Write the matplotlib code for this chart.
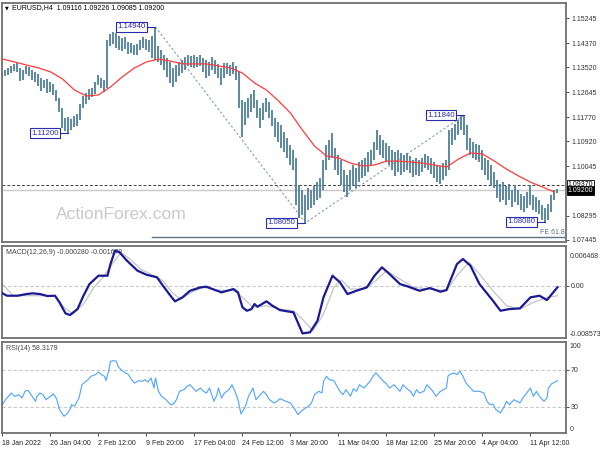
import numpy as np
import matplotlib
matplotlib.use("Agg")
import matplotlib.pyplot as plt
from matplotlib.transforms import blended_transform_factory

plt.rcParams['font.family'] = ['Liberation Sans', 'DejaVu Sans']

# === DATA ===
# one entry per 2 H4 bars, bar index = 2 * position
price_hi = [
    1.1336, 1.1343, 1.1350, 1.1357, 1.1364, 1.1367, 1.1350, 1.1343, 1.1357, 1.1353, 1.1343, 1.1336, 1.1329, 1.1314, 1.1307, 1.1311,
    1.1300, 1.1293, 1.1272, 1.1244, 1.1209, 1.1174, 1.1177, 1.1170, 1.1181, 1.1188, 1.1223, 1.1251, 1.1262, 1.1276, 1.1279, 1.1300,
    1.1325, 1.1314, 1.1307, 1.1448, 1.1469, 1.1476, 1.1473, 1.1462, 1.1455, 1.1459, 1.1441, 1.1438, 1.1431, 1.1434, 1.1448, 1.1459,
    1.1452, 1.1448, 1.1462, 1.1494, 1.1427, 1.1413, 1.1396, 1.1385, 1.1371, 1.1350, 1.1360, 1.1371, 1.1378, 1.1388, 1.1396, 1.1392,
    1.1396, 1.1388, 1.1396, 1.1385, 1.1378, 1.1371, 1.1388, 1.1378, 1.1364, 1.1350, 1.1367, 1.1367, 1.1360, 1.1371, 1.1357, 1.1336,
    1.1237, 1.1230, 1.1244, 1.1258, 1.1272, 1.1237, 1.1209, 1.1227, 1.1244, 1.1230, 1.1202, 1.1174, 1.1160, 1.1149, 1.1125, 1.1103,
    1.1079, 1.1061, 1.1033, 1.0938, 1.0920, 1.0903, 1.0927, 1.0920, 1.0934, 1.0948, 1.0963, 1.1026, 1.1079, 1.1096, 1.1121, 1.1068,
    1.1044, 1.1026, 1.0991, 1.0973, 1.0991, 1.1008, 1.0998, 1.1019, 1.1026, 1.1033, 1.1054, 1.1061, 1.1089, 1.1132, 1.1114, 1.1096,
    1.1086, 1.1075, 1.1061, 1.1054, 1.1061, 1.1051, 1.1044, 1.1051, 1.1040, 1.1026, 1.1033, 1.1026, 1.1033, 1.1047, 1.1040, 1.1033,
    1.1019, 1.1008, 1.1005, 1.1015, 1.1026, 1.1132, 1.1139, 1.1153, 1.1167, 1.1181, 1.1184, 1.1149, 1.1103, 1.1089, 1.1082, 1.1079,
    1.1061, 1.1033, 1.1026, 1.1008, 1.0984, 1.0955, 1.0941, 1.0948, 1.0934, 1.0941, 1.0920, 1.0938, 1.0920, 1.0906, 1.0899, 1.0913,
    1.0938, 1.0903, 1.0896, 1.0885, 1.0867, 1.0857, 1.0871, 1.0903, 1.0920, 1.0923,
]
price_lo = [
    1.1314, 1.1321, 1.1325, 1.1332, 1.1339, 1.1336, 1.1304, 1.1307, 1.1329, 1.1321, 1.1307, 1.1300, 1.1286, 1.1269, 1.1279, 1.1262,
    1.1265, 1.1255, 1.1234, 1.1195, 1.1139, 1.1128, 1.1120, 1.1132, 1.1142, 1.1146, 1.1167, 1.1209, 1.1223, 1.1237, 1.1248, 1.1258,
    1.1290, 1.1279, 1.1265, 1.1279, 1.1427, 1.1434, 1.1420, 1.1413, 1.1410, 1.1417, 1.1399, 1.1403, 1.1396, 1.1396, 1.1413, 1.1420,
    1.1413, 1.1406, 1.1385, 1.1378, 1.1371, 1.1360, 1.1343, 1.1318, 1.1297, 1.1283, 1.1300, 1.1321, 1.1332, 1.1343, 1.1357, 1.1353,
    1.1350, 1.1353, 1.1357, 1.1336, 1.1314, 1.1321, 1.1343, 1.1329, 1.1314, 1.1290, 1.1314, 1.1329, 1.1321, 1.1329, 1.1307, 1.1209,
    1.1107, 1.1149, 1.1174, 1.1195, 1.1209, 1.1174, 1.1139, 1.1167, 1.1195, 1.1174, 1.1146, 1.1107, 1.1089, 1.1068, 1.1054, 1.1033,
    1.1008, 1.0991, 1.0867, 1.0822, 1.0832, 1.0805, 1.0850, 1.0857, 1.0867, 1.0885, 1.0892, 1.0920, 1.0991, 1.1026, 1.1033, 1.0991,
    1.0973, 1.0938, 1.0913, 1.0896, 1.0920, 1.0934, 1.0927, 1.0948, 1.0963, 1.0970, 1.0984, 1.1008, 1.1026, 1.1061, 1.1044, 1.1033,
    1.1019, 1.1008, 1.0991, 1.0970, 1.0984, 1.0973, 1.0984, 1.0991, 1.0980, 1.0966, 1.0973, 1.0970, 1.0984, 1.0998, 1.0991, 1.0977,
    1.0963, 1.0948, 1.0941, 1.0955, 1.0970, 1.0991, 1.1079, 1.1096, 1.1114, 1.1132, 1.1114, 1.1061, 1.1044, 1.1033, 1.1026, 1.1019,
    1.0991, 1.0973, 1.0955, 1.0934, 1.0927, 1.0892, 1.0878, 1.0885, 1.0867, 1.0885, 1.0860, 1.0878, 1.0867, 1.0850, 1.0843, 1.0857,
    1.0867, 1.0850, 1.0843, 1.0836, 1.0815, 1.0808, 1.0815, 1.0843, 1.0885, 1.0909,
]

# red moving average, every 8 bars
ma_val = [
    1.1381, 1.1371, 1.1360, 1.1350, 1.1336, 1.1311, 1.1272, 1.1251, 1.1255, 1.1283,
    1.1319, 1.1350, 1.1371, 1.1381, 1.1374, 1.1364, 1.1364, 1.1364, 1.1357, 1.1350,
    1.1332, 1.1297, 1.1272, 1.1234, 1.1191, 1.1131, 1.1075, 1.1040, 1.1033, 1.1015,
    1.1005, 1.1008, 1.1022, 1.1022, 1.1019, 1.1015, 1.1008, 1.1001, 1.1029, 1.1051,
    1.1047, 1.1022, 1.0994, 1.0970, 1.0948, 1.0931, 1.0913,
]

macd_idx = [0, 3, 10, 16, 20, 25, 30, 35, 38, 42, 45, 50, 54, 58, 64, 70, 72, 75, 78, 83,
            90, 96, 103, 107, 112, 115, 120, 125, 132, 136, 140, 146, 154, 157, 160, 163, 166, 168, 170, 176,
            180, 185, 194, 200, 205, 210, 214, 220, 225, 230, 236, 243, 248, 253, 258, 265, 270, 278, 285, 292,
            296, 303, 307, 312, 318, 327, 332, 338, 345, 352, 358, 363, 370]
macd_val = [-0.00127, -0.00166, -0.00166, -0.00139, -0.00127, -0.00139, -0.00171, -0.00166, -0.00275, -0.00455,
            -0.00482, -0.00384, -0.00166, 0.00025, 0.00161, 0.00161, 0.00352, 0.00570, 0.00544, 0.00406,
            0.00243, 0.00177, 0.00135, -0.00003, -0.00166, -0.00258, -0.00193, -0.00085, -0.00029, -0.00019,
            -0.00057, -0.00111, -0.00057, -0.00111, -0.00356, -0.00412, -0.00384, -0.00302, -0.00346, -0.00258,
            -0.00330, -0.00401, -0.00438, -0.00782, -0.00765, -0.00576, -0.00193, 0.00161, 0.00053, -0.00139,
            -0.00085, -0.00029, 0.00161, 0.00298, 0.00189, 0.00025, -0.00013, -0.00085, -0.00041, -0.00101,
            -0.00073, 0.00352, 0.00434, 0.00324, 0.00025, -0.00248, -0.00412, -0.00384, -0.00373, -0.00193,
            -0.00166, -0.00237, -0.00028]

sig_idx = [0, 7, 35, 41, 47, 54, 61, 67, 74, 79, 85, 92, 101, 107, 114, 119, 126, 134, 143, 154,
           160, 167, 176, 185, 194, 201, 207, 214, 221, 226, 232, 241, 249, 256, 265, 274, 285, 296, 303, 311,
           318, 327, 336, 345, 354, 363, 370]
sig_val = [0.00025, -0.00166, -0.00166, -0.00356, -0.00466, -0.00302, -0.00029, 0.00135, 0.00380, 0.00544,
           0.00434, 0.00270, 0.00161, 0.00079, -0.00139, -0.00221, -0.00111, -0.00029, -0.00073, -0.00085,
           -0.00193, -0.00356, -0.00330, -0.00384, -0.00412, -0.00576, -0.00740, -0.00466, -0.00029, 0.00090,
           -0.00057, -0.00057, 0.00079, 0.00243, 0.00106, -0.00029, -0.00057, -0.00085, 0.00161, 0.00380,
           0.00189, -0.00085, -0.00330, -0.00384, -0.00275, -0.00193, -0.00168]

rsi_idx = [0, 2, 4, 6, 8, 11, 13, 15, 17, 19, 22, 23, 25, 27, 29, 32, 34, 36, 38, 41,
           43, 45, 46, 48, 51, 53, 55, 57, 59, 62, 64, 66, 68, 69, 71, 72, 74, 76, 77, 79,
           82, 84, 86, 88, 91, 93, 95, 97, 99, 101, 102, 104, 106, 109, 112, 114, 116, 118, 121, 123,
           125, 127, 129, 132, 134, 136, 138, 141, 143, 144, 146, 148, 151, 153, 155, 157, 159, 162, 164, 167,
           169, 172, 174, 176, 178, 181, 183, 185, 188, 192, 195, 197, 199, 202, 204, 206, 208, 211, 213, 214,
           216, 218, 221, 223, 225, 227, 229, 232, 234, 236, 238, 241, 243, 245, 247, 249, 252, 254, 256, 258,
           261, 263, 265, 267, 269, 272, 274, 276, 278, 281, 283, 285, 287, 289, 292, 294, 296, 297, 298, 301,
           303, 305, 307, 309, 312, 314, 318, 321, 323, 325, 327, 329, 332, 334, 336, 338, 341, 343, 345, 347,
           349, 352, 354, 356, 358, 361, 363, 364, 366, 369, 370]
rsi_val = [32.5, 37.9, 41.5, 45.1, 41.5, 43.3, 39.7, 46.9, 48.0, 43.3, 36.1, 41.5, 45.1, 43.3, 37.9, 41.5, 44.1, 39.0, 27.1, 19.9,
           22.4, 27.1, 32.5, 30.7, 39.7, 54.1, 57.0, 59.5, 63.2, 65.0, 67.8, 65.0, 63.2, 58.5, 70.4, 79.4, 80.1, 79.4, 74.0, 70.4,
           66.8, 65.0, 59.5, 55.9, 58.5, 57.7, 59.5, 57.0, 61.4, 50.5, 61.4, 46.9, 41.5, 37.9, 32.5, 33.2, 37.9, 46.9, 48.7, 52.3,
           54.1, 50.5, 46.9, 50.5, 46.9, 45.1, 50.5, 36.1, 43.3, 50.5, 39.7, 45.1, 48.7, 54.1, 46.9, 37.9, 22.4, 30.7, 41.5, 50.5,
           37.9, 43.3, 46.9, 43.3, 37.9, 34.3, 36.1, 39.0, 36.8, 34.3, 27.1, 21.7, 25.3, 28.9, 30.7, 34.3, 43.3, 46.9, 45.1, 57.7,
           63.2, 59.5, 58.5, 52.3, 46.9, 43.3, 48.7, 41.5, 49.8, 46.9, 54.1, 50.5, 54.1, 57.7, 63.2, 66.8, 61.4, 57.7, 54.9, 50.5,
           54.1, 50.5, 46.9, 54.1, 50.5, 46.9, 41.5, 48.7, 45.1, 46.9, 54.1, 50.5, 46.9, 41.5, 46.9, 48.7, 50.5, 63.2, 65.0, 66.8,
           65.0, 68.6, 63.2, 55.9, 50.5, 46.9, 46.9, 45.1, 36.1, 32.5, 33.2, 27.1, 23.5, 28.9, 36.1, 32.5, 37.9, 36.1, 34.3, 39.7,
           44.1, 50.5, 41.5, 46.9, 41.5, 36.1, 39.7, 50.5, 54.9, 57.7, 58.3]

main_ticks = [1.15245, 1.14370, 1.13520, 1.12645, 1.11770, 1.10920, 1.10045, 1.08295, 1.07445]
date_labels = ["18 Jan 2022", "26 Jan 04:00", "2 Feb 12:00", "9 Feb 20:00", "17 Feb 04:00", "24 Feb 12:00",
               "3 Mar 20:00", "11 Mar 04:00", "18 Mar 12:00", "25 Mar 20:00", "4 Apr 04:00", "11 Apr 12:00"]

pivots = [(1.14940, 102), (1.11200, 44), (1.08050, 202), (1.11840, 308), (1.08080, 362)]
ask_line = 1.09370
bid_line = 1.09200
fe_level = 1.0756

# === COLOURS ===
BAR = '#4f7f9c'
FRAME = '#707070'
PIVOT = '#2b2bb0'
SMALL = 5

fig = plt.figure(figsize=(6, 4.5), dpi=100)
fig.patch.set_facecolor('white')
W = 564 / 600
ax = fig.add_axes([2 / 600, 1 - 242 / 450, W, 239 / 450])
ax_m = fig.add_axes([2 / 600, 1 - 338 / 450, W, 92 / 450])
ax_r = fig.add_axes([2 / 600, 1 - 433 / 450, W, 91 / 450])

xlim = (-0.33, 375.7)
for a in (ax, ax_m, ax_r):
    a.set_xlim(*xlim)
    for s in a.spines.values():
        s.set_color(FRAME)
        s.set_linewidth(1.3)
    a.yaxis.tick_right()
    a.tick_params(axis='y', labelsize=SMALL, length=2.5, width=0.6, pad=1.2, colors='#333333')
    a.tick_params(axis='x', bottom=False, labelbottom=False)

# === Main price panel ===
bar_x = np.arange(len(price_hi)) * 2
ax.text(0.211, 0.115, "ActionForex.com", transform=ax.transAxes, fontsize=12.5,
        color='#c9c9c9', ha='center', va='center', zorder=0)
ax.vlines(bar_x, price_lo, price_hi, color=BAR, lw=1.3, zorder=2)
ax.plot(np.arange(len(ma_val)) * 8, ma_val, color='#ff3b3b', lw=0.9, zorder=3)

ax.axhline(bid_line, color='#c8c8c8', lw=1.0, zorder=1)
ax.axhline(ask_line, color='#404040', lw=0.7, ls=(0, (3, 2)), zorder=1)

# dotted swing lines between pivots
sw_p = [pivots[0][0], pivots[2][0], pivots[3][0]]
sw_x = [pivots[0][1], pivots[2][1], pivots[3][1]]
ax.plot(sw_x, sw_p, color='#8c9a9a', lw=0.8, ls=(0, (2, 2)), zorder=1)

# FE 61.8 projection
ax.plot([100, xlim[1]], [fe_level, fe_level], color='#5d7285', lw=1.0, zorder=1)
ax.text(0.998, fe_level + 0.0003, "FE 61.8", transform=blended_transform_factory(ax.transAxes, ax.transData),
        fontsize=SMALL, color='#5d7285', ha='right', va='bottom')

# pivot labels
for price, bx in pivots:
    right = bx - 5
    ax.plot([right, bx], [price, price], color=PIVOT, lw=0.8, zorder=4)
    ax.text(right - 1.5, price, f"{price:.5f}", fontsize=5.6, color=PIVOT, ha='right', va='center',
            zorder=5, bbox=dict(boxstyle='square,pad=0.2', fc='white', ec=PIVOT, lw=0.8))

ax.set_ylim(1.07374, 1.15783)
ax.set_yticks(main_ticks)
ax.set_yticklabels([f"{t:.5f}" for t in main_ticks])
tr = blended_transform_factory(ax.transAxes, ax.transData)
ax.text(1.003, ask_line + 0.0002, f"{ask_line:.5f}", transform=tr, fontsize=SMALL, color='black',
        ha='left', va='center', bbox=dict(boxstyle='square,pad=0.15', fc='white', ec='black', lw=0.6))
ax.text(1.003, bid_line - 0.0001, f"{bid_line:.5f}", transform=tr, fontsize=SMALL, color='white',
        ha='left', va='center', bbox=dict(boxstyle='square,pad=0.15', fc='black', ec='black', lw=0.6))

ax.text(0.006, 0.981, "\u25bc", transform=ax.transAxes, fontsize=3.5, color='black',
        ha='left', va='center', family=['DejaVu Sans'])
ax.text(0.018, 0.981, "EURUSD,H4  1.09116 1.09226 1.09085 1.09200", transform=ax.transAxes,
        fontsize=SMALL, color='black', ha='left', va='center')

# === MACD panel ===
ax_m.set_ylim(-0.008573, 0.006468)
ax_m.axhline(0, color='#c8c8c8', lw=0.8, ls=(0, (3, 2)), zorder=1)
ax_m.text(0.007, 0.93, "MACD(12,26,9) -0.000280 -0.001679", transform=ax_m.transAxes,
          fontsize=SMALL, color='#444444', ha='left', va='center', zorder=1)
ax_m.plot(sig_idx, sig_val, color='#c4c4c4', lw=0.9, zorder=2)
ax_m.plot(macd_idx, macd_val, color='#1a1a96', lw=1.6, zorder=3)
ax_m.set_yticks([0])
ax_m.set_yticklabels(["0.00"])
ax_m.text(1.006, 0.884, "0.006468", transform=ax_m.transAxes, fontsize=SMALL, color='#333333', va='center')
ax_m.text(1.006, 0.033, "-0.008573", transform=ax_m.transAxes, fontsize=SMALL, color='#333333', va='center')

# === RSI panel ===
ax_r.set_ylim(1.8, 100.3)
for lvl in (70, 30):
    ax_r.axhline(lvl, color='#c8c8c8', lw=0.8, ls=(0, (3, 2)), zorder=1)
ax_r.text(0.007, 0.93, "RSI(14) 58.3179", transform=ax_r.transAxes,
          fontsize=SMALL, color='#444444', ha='left', va='center')
ax_r.plot(rsi_idx, rsi_val, color='#4da3ff', lw=0.8, zorder=2)
ax_r.set_yticks([70, 30])
ax_r.set_yticklabels(["70", "30"])
ax_r.text(1.006, 0.946, "100", transform=ax_r.transAxes, fontsize=SMALL, color='#333333', va='center')
ax_r.text(1.006, 0.04, "0", transform=ax_r.transAxes, fontsize=SMALL, color='#333333', va='center')

ax_r.tick_params(axis='x', bottom=True, labelbottom=True, labelsize=SMALL, length=2.5, width=0.6,
                 pad=2.5, colors='#222222')
ax_r.set_xticks(np.arange(len(date_labels)) * 32)
ax_r.set_xticklabels(date_labels)
for lab in ax_r.get_xticklabels():
    lab.set_ha('left')

fig.savefig("out.png", dpi=100, facecolor='white')
